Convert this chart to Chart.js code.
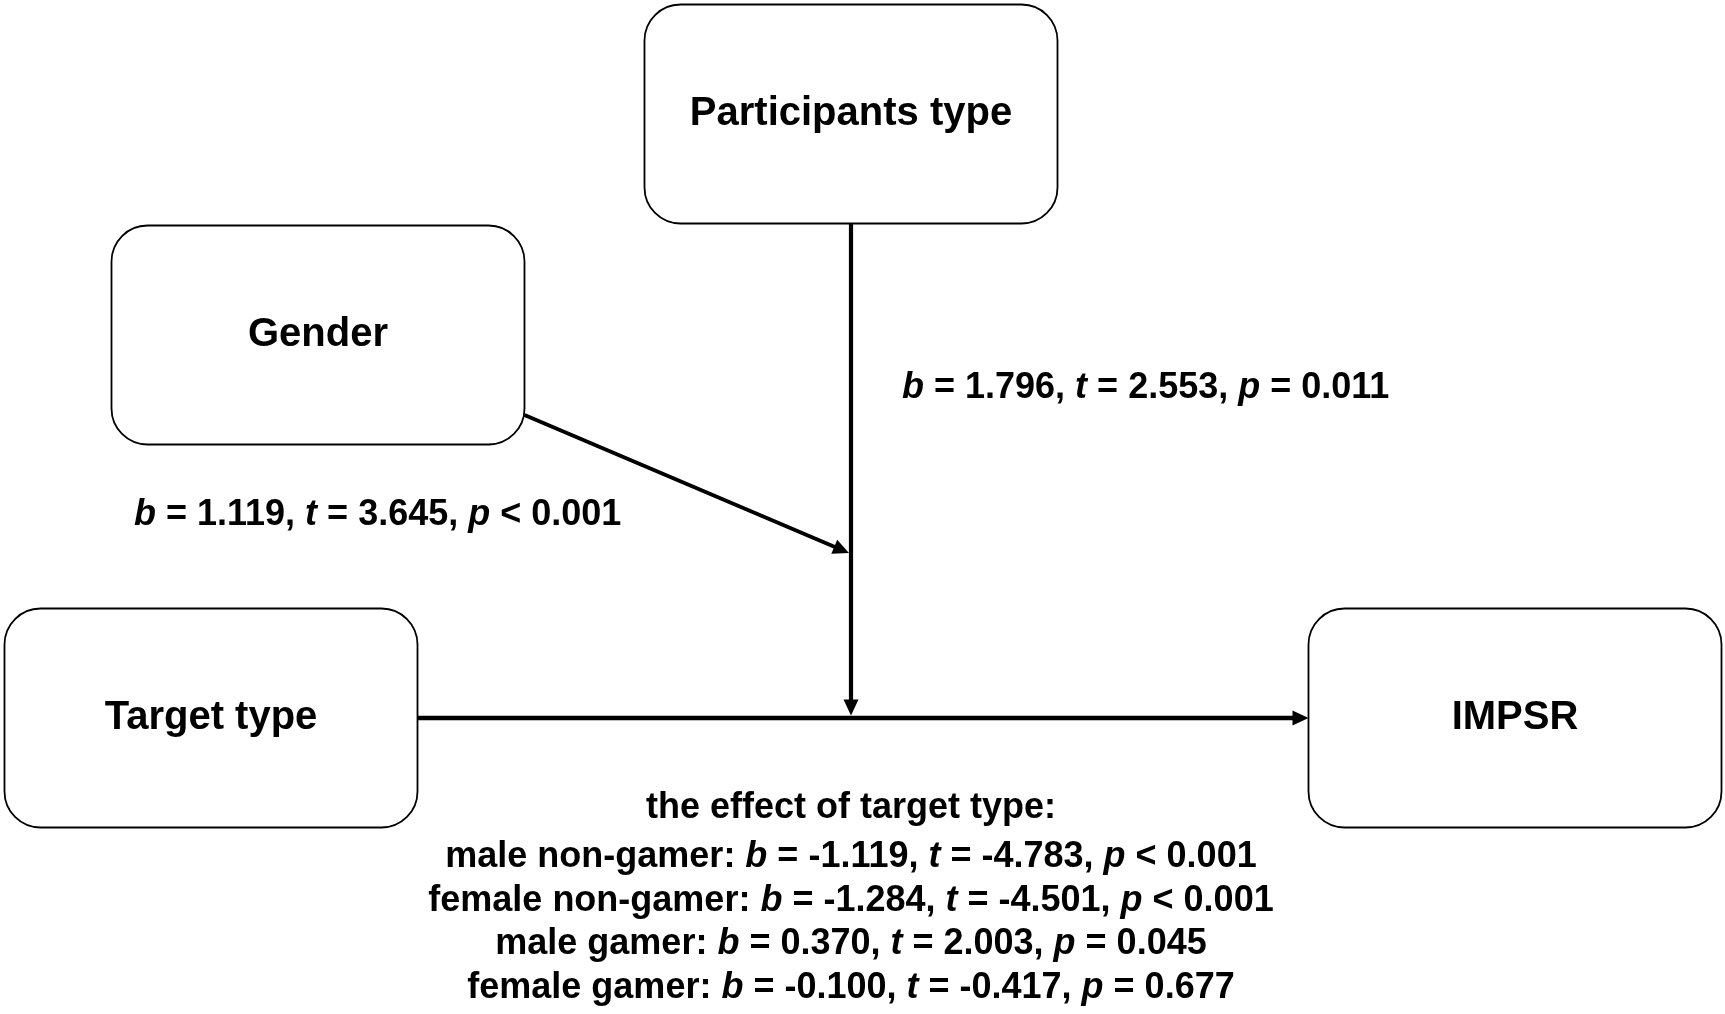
<!DOCTYPE html>
<html>
<head>
<meta charset="utf-8">
<title>Moderated model: target type and IMPSR</title>
<script src="https://cdn.jsdelivr.net/npm/chart.js@4.4.1/dist/chart.umd.min.js"></script>
<style>
  html, body { margin: 0; padding: 0; background: #fff; }
  #wrap { width: 1725px; height: 1014px; position: relative; }
</style>
</head>
<body>
<div id="wrap"><canvas id="diagram"></canvas></div>
<script>
// variables in the model (box centres in diagram units)
const nodeNames = ['Participants type', 'Gender', 'Target type', 'IMPSR'];
const nodeX = [851, 318, 211, 1515];
const nodeY = [114, 335, 718, 718];

// path coefficients
const pathLabels = [
    { b: '1.796', t: '2.553', p: '= 0.011' },   // participants type -> target path
    { b: '1.119', t: '3.645', p: '< 0.001' }    // gender -> moderation path
];

// simple effects of target type
const groupNames = ['male non-gamer', 'female non-gamer', 'male gamer', 'female gamer'];
const bValues = ['-1.119', '-1.284', '0.370', '-0.100'];
const tValues = ['-4.783', '-4.501', '2.003', '-0.417'];
const pValues = ['< 0.001', '< 0.001', '= 0.045', '= 0.677'];

const BOX_W = 413;
const BOX_H = 219;
const FONT = '"Liberation Sans", Arial, sans-serif';

function statParts(b, t, p) {
    return [
        { text: 'b', italic: true }, { text: ' = ' + b + ', ' },
        { text: 't', italic: true }, { text: ' = ' + t + ', ' },
        { text: 'p', italic: true }, { text: ' ' + p }
    ];
}

// draw text made of bold / bold-italic pieces
function drawParts(ctx, parts, x, y, size, align) {
    let total = 0;
    parts.forEach(pt => {
        ctx.font = (pt.italic ? 'italic ' : '') + 'bold ' + size + 'px ' + FONT;
        pt.w = ctx.measureText(pt.text).width;
        total += pt.w;
    });
    let cx = align === 'center' ? x - total / 2 : x;
    ctx.textAlign = 'left';
    ctx.textBaseline = 'middle';
    parts.forEach(pt => {
        ctx.font = (pt.italic ? 'italic ' : '') + 'bold ' + size + 'px ' + FONT;
        ctx.fillText(pt.text, cx, y);
        cx += pt.w;
    });
}

function arrow(ctx, x1, y1, x2, y2, lw) {
    const ang = Math.atan2(y2 - y1, x2 - x1);
    const len = 16, half = 7.5;
    ctx.lineWidth = lw;
    ctx.beginPath();
    ctx.moveTo(x1, y1);
    ctx.lineTo(x2 - Math.cos(ang) * (len - 2), y2 - Math.sin(ang) * (len - 2));
    ctx.stroke();
    ctx.beginPath();
    ctx.moveTo(x2, y2);
    ctx.lineTo(x2 - Math.cos(ang) * len - Math.sin(ang) * half, y2 - Math.sin(ang) * len + Math.cos(ang) * half);
    ctx.lineTo(x2 - Math.cos(ang) * len + Math.sin(ang) * half, y2 - Math.sin(ang) * len - Math.cos(ang) * half);
    ctx.closePath();
    ctx.fill();
}

const diagramPlugin = {
    id: 'pathDiagram',
    afterDatasetsDraw(chart) {
        const ctx = chart.ctx;
        const xs = chart.scales.x, ys = chart.scales.y;
        const px = v => xs.getPixelForValue(v);
        const py = v => ys.getPixelForValue(v);
        const sx = d => Math.abs(px(d) - px(0));
        const sy = d => Math.abs(py(d) - py(0));

        ctx.save();
        ctx.strokeStyle = '#000';
        ctx.fillStyle = '#000';

        // boxes
        nodeNames.forEach((name, i) => {
            const w = sx(BOX_W), h = sy(BOX_H);
            const left = px(nodeX[i]) - w / 2, top = py(nodeY[i]) - h / 2;
            ctx.lineWidth = 1.8;
            ctx.beginPath();
            ctx.roundRect(left, top, w, h, 36);
            ctx.stroke();
            ctx.font = 'bold 40px ' + FONT;
            ctx.textAlign = 'center';
            ctx.textBaseline = 'middle';
            ctx.fillText(name, px(nodeX[i]), py(nodeY[i]));
        });

        // main path: Target type -> IMPSR
        const pathY = nodeY[2];
        const tx = nodeX[2] + BOX_W / 2, ix = nodeX[3] - BOX_W / 2;
        arrow(ctx, px(tx), py(pathY), px(ix), py(pathY), 4.6);

        // moderator: Participants type -> main path
        const jx = nodeX[0];
        arrow(ctx, px(jx), py(nodeY[0] + BOX_H / 2), px(jx), py(pathY - 2.5), 4.2);

        // second moderator: Gender -> moderator path
        const gx = nodeX[1] + BOX_W / 2, gy = nodeY[1] + 80;
        arrow(ctx, px(gx), py(gy), px(jx - 2), py(553), 4);

        // coefficient labels
        drawParts(ctx, statParts(pathLabels[0].b, pathLabels[0].t, pathLabels[0].p), px(jx + 51), py(388), 36, 'left');
        drawParts(ctx, statParts(pathLabels[1].b, pathLabels[1].t, pathLabels[1].p), px(134), py(515), 36, 'left');

        // simple effects block
        drawParts(ctx, [{ text: 'the effect of target type:' }], px(jx), py(808), 36, 'center');
        const rowY = [857.5, 901.5, 944.5, 988.5];
        groupNames.forEach((g, i) => {
            const parts = [{ text: g + ': ' }].concat(statParts(bValues[i], tValues[i], pValues[i]));
            drawParts(ctx, parts, px(jx), py(rowY[i]), 36, 'center');
        });
        ctx.restore();
    }
};

new Chart(document.getElementById('diagram'), {
    type: 'scatter',
    data: {
        datasets: [{
            data: nodeNames.map((n, i) => ({ x: nodeX[i], y: nodeY[i] })),
            pointRadius: 0
        }]
    },
    options: {
        responsive: true,
        maintainAspectRatio: false,
        animation: false,
        layout: { padding: 0 },
        plugins: { legend: { display: false }, tooltip: { enabled: false } },
        scales: {
            x: { type: 'linear', min: 0, max: 1725, display: false },
            y: { type: 'linear', min: 0, max: 1014, reverse: true, display: false }
        }
    },
    plugins: [diagramPlugin]
});
</script>
</body>
</html>
